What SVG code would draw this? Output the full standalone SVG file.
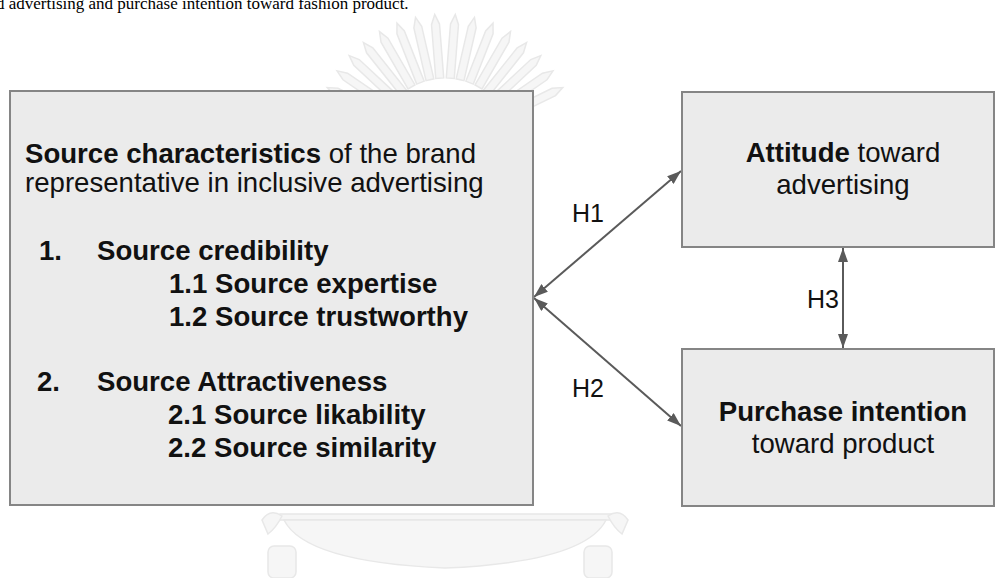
<svg xmlns="http://www.w3.org/2000/svg" xmlns:xlink="http://www.w3.org/1999/xlink" width="996" height="578" viewBox="0 0 996 578">
<defs>
<style>
.box{fill:#ebebeb;stroke:#858585;stroke-width:2}
.t{font-family:"Liberation Sans",Arial,sans-serif;font-size:27.6px;fill:#111}
.b{font-weight:bold}
.lbl{font-family:"Liberation Sans",Arial,sans-serif;font-size:25px;fill:#111}
.con{stroke:#5a5a5a;stroke-width:2;fill:none;marker-start:url(#ah);marker-end:url(#ah)}
.wm{fill:#f6f6f6;stroke:#e8e8e8;stroke-width:1.5}
</style>
<marker id="ah" viewBox="0 0 14 10" refX="14" refY="5" markerWidth="14" markerHeight="10" markerUnits="userSpaceOnUse" orient="auto-start-reverse">
<path d="M0,0 L14,5 L0,10 Z" fill="#5a5a5a"/>
</marker>
<path id="ray" d="M441,78 L441,24 L445,14 L449,24 L449,78 Z"/>
</defs>
<rect width="996" height="578" fill="#ffffff"/>
<text x="-4" y="9" font-family="'Liberation Serif','Times New Roman',serif" font-size="17" fill="#000">d advertising and purchase intention toward fashion product.</text>
<g id="watermark" class="wm">
<use xlink:href="#ray" transform="rotate(-64 445 145)"/>
<use xlink:href="#ray" transform="rotate(-55.5 445 145)"/>
<use xlink:href="#ray" transform="rotate(-47 445 145)"/>
<use xlink:href="#ray" transform="rotate(-38.5 445 145)"/>
<use xlink:href="#ray" transform="rotate(-30 445 145)"/>
<use xlink:href="#ray" transform="rotate(-21.5 445 145)"/>
<use xlink:href="#ray" transform="rotate(-13 445 145)"/>
<use xlink:href="#ray" transform="rotate(-4.5 445 145)"/>
<use xlink:href="#ray" transform="rotate(4.5 445 145)"/>
<use xlink:href="#ray" transform="rotate(13 445 145)"/>
<use xlink:href="#ray" transform="rotate(21.5 445 145)"/>
<use xlink:href="#ray" transform="rotate(30 445 145)"/>
<use xlink:href="#ray" transform="rotate(38.5 445 145)"/>
<use xlink:href="#ray" transform="rotate(47 445 145)"/>
<use xlink:href="#ray" transform="rotate(55.5 445 145)"/>
<use xlink:href="#ray" transform="rotate(64 445 145)"/>
<path d="M280,514 L612,514 L612,520 L280,520 Z"/>
<path d="M284,520 Q305,562 445,568 Q585,562 606,520 Z"/>
<path d="M262,520 Q270,508 282,516 Q276,528 268,534 Z"/>
<path d="M628,520 Q620,508 608,516 Q614,528 622,534 Z"/>
<rect x="268" y="546" width="28" height="32" rx="6"/>
<rect x="584" y="546" width="28" height="32" rx="6"/>
</g>
<g id="connectors">
<line class="con" x1="534" y1="297" x2="681" y2="171"/>
<line class="con" x1="534" y1="298" x2="681" y2="426"/>
<line class="con" x1="843" y1="248" x2="843" y2="348"/>
<text class="lbl" x="572" y="222">H1</text>
<text class="lbl" x="572" y="397">H2</text>
<text class="lbl" x="807" y="308">H3</text>
</g>
<g id="source">
<rect class="box" x="10" y="91" width="523" height="414"/>
<text class="t" x="25" y="163"><tspan class="b">Source characteristics</tspan> of the brand</text>
<text class="t" x="25" y="192">representative in inclusive advertising</text>
<text class="t b" x="39" y="260">1.</text>
<text class="t b" x="97" y="260">Source credibility</text>
<text class="t b" x="169" y="293">1.1 Source expertise</text>
<text class="t b" x="169" y="326">1.2 Source trustworthy</text>
<text class="t b" x="37" y="391">2.</text>
<text class="t b" x="97" y="391">Source Attractiveness</text>
<text class="t b" x="168" y="424">2.1 Source likability</text>
<text class="t b" x="168" y="457">2.2 Source similarity</text>
</g>
<g id="attitude">
<rect class="box" x="682" y="92" width="312" height="155"/>
<text class="t" x="843" y="162" text-anchor="middle"><tspan class="b">Attitude</tspan> toward</text>
<text class="t" x="843" y="194" text-anchor="middle">advertising</text>
</g>
<g id="purchase">
<rect class="box" x="682" y="349" width="312" height="157"/>
<text class="t b" x="843" y="421" text-anchor="middle">Purchase intention</text>
<text class="t" x="843" y="453" text-anchor="middle">toward product</text>
</g>
</svg>
